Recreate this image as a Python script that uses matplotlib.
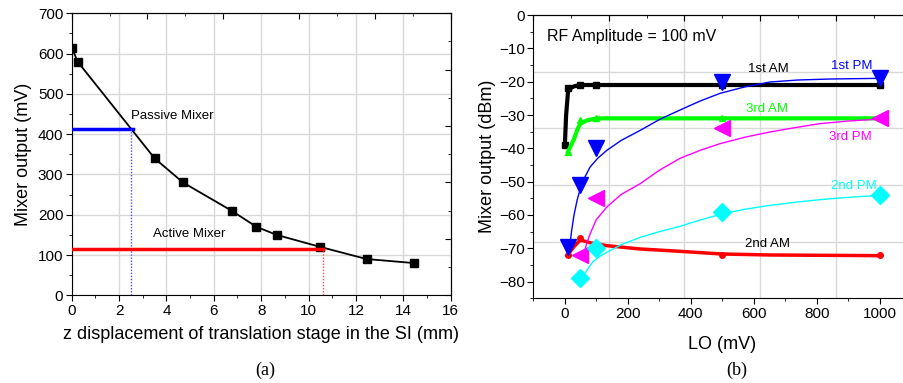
import numpy as np
import matplotlib
matplotlib.use("Agg")
import matplotlib.pyplot as plt

plt.rcParams['font.family'] = ['Liberation Sans', 'DejaVu Sans']

# ---- panel (a) data
z_mm = [0, 0.25, 3.5, 4.7, 6.75, 7.8, 8.65, 10.5, 12.45, 14.45]
out_mv = [615, 580, 340, 280, 210, 170, 150, 120, 90, 80]
passive_z, passive_mv = 2.5, 412
active_z, active_mv = 10.63, 115

# ---- panel (b) data (markers)
am1_x = [1, 10, 50, 100, 500, 1000]
am1_y = [-39, -22, -21, -21, -21, -21]
am3_x = [10, 50, 100, 500, 1000]
am3_y = [-41, -31.5, -31, -31, -31]
am2_x = [10, 50, 500, 1000]
am2_y = [-72, -67, -72, -72]
pm1_x = [10, 50, 100, 500, 1000]
pm1_y = [-69.5, -51, -40, -20, -19]
pm3_x = [50, 100, 500, 1000]
pm3_y = [-72, -55, -34, -31]
pm2_x = [50, 100, 500, 1000]
pm2_y = [-79, -70, -59, -54]

# fitted curves
am1_fit_x = [1, 5, 11, 20, 30, 50, 100, 500, 1000]
am1_fit_y = [-39, -30, -23, -21.9, -21.4, -21, -21, -21, -21]
am3_fit_x = [11, 20, 30, 40, 50, 71, 103, 500, 1000]
am3_fit_y = [-41, -39.2, -37.2, -34.5, -32.6, -31.6, -31, -31, -31]
am2_fit_x = [8, 30, 50, 80, 134, 240, 366, 498, 651, 1000]
am2_fit_y = [-72.2, -69.5, -67.5, -68.3, -69.2, -70.2, -70.9, -71.7, -72.0, -72.2]
pm1_fit_x = [14, 22, 30, 40, 50, 65, 81, 105, 134, 180, 240, 300, 366, 430, 493, 570, 651, 740, 841, 1000]
pm1_fit_y = [-71.7, -65, -60, -55.5, -52.1, -48.5, -45.6, -43, -40.6, -37.6, -34.6, -31.4, -28.5, -25.8, -23.5, -21.6, -20.1, -19.5, -19.2, -19.0]
pm3_fit_x = [60, 65, 70, 81, 100, 134, 180, 240, 300, 366, 430, 493, 570, 651, 730, 809, 900, 1000]
pm3_fit_y = [-72.7, -70.5, -68.5, -65.7, -61.5, -57.6, -53.8, -50.6, -46.6, -43, -40.6, -38.6, -36.7, -35.1, -33.8, -32.6, -31.8, -31.2]
pm2_fit_x = [55, 65, 77, 90, 110, 134, 180, 240, 300, 366, 430, 498, 570, 651, 730, 809, 900, 1000]
pm2_fit_y = [-79, -77.5, -75.7, -74, -72.5, -71.2, -68.9, -66.7, -65, -63.4, -61.5, -59.7, -58.3, -57.1, -56.2, -55.4, -54.7, -54.1]

fig = plt.figure(figsize=(9.04, 3.83), dpi=100)

grid_c = '#d8d8d8'

# ================= (a)
ax = fig.add_axes([0.0793, 0.2290, 0.4192, 0.7363])
ax.set_xlim(0, 16)
ax.set_ylim(0, 700)
ax.set_xticks(np.arange(0, 17, 2))
ax.set_xticks(np.arange(1, 16, 2), minor=True)
ax.set_yticks(np.arange(0, 701, 100))
ax.set_yticks(np.arange(50, 700, 100), minor=True)
ax.grid(True, color=grid_c, lw=1)
ax.set_axisbelow(True)
ax.tick_params(direction='out', labelsize=11, length=4, pad=2)
ax.tick_params(which='minor', direction='out', length=2)

ax.plot(z_mm, out_mv, color='black', lw=1.3, marker='s', ms=6, zorder=3)
ax.plot([0, passive_z + 0.08], [passive_mv, passive_mv], color='#0000ff', lw=2.5, zorder=4)
ax.plot([passive_z, passive_z], [0, passive_mv], color='#4d4dff', lw=1, dashes=(1, 1.2), zorder=4)
ax.plot([0, active_z], [active_mv, active_mv], color='#ff0000', lw=2.5, zorder=4)
ax.plot([active_z, active_z], [0, active_mv], color='#ff4d4d', lw=1, dashes=(1, 1.2), zorder=4)
ax.text(2.5, 445, 'Passive Mixer', fontsize=9.5, va='center', ha='left')
ax.text(3.45, 152, 'Active Mixer', fontsize=9.5, va='center', ha='left')
ax.set_xlabel('z displacement of translation stage in the SI (mm)', fontsize=13, labelpad=6)
ax.set_ylabel('Mixer output (mV)', fontsize=13, labelpad=4)

for side, lim in (('top', 16), ('right', 700)):
    if side == 'top':
        sec = ax.secondary_xaxis('top')
        sec.set_xticks(np.linspace(0, lim, 6))
        sec.set_xticks(np.linspace(0, lim, 11), minor=True)
        sec.tick_params(labeltop=False)
    else:
        sec = ax.secondary_yaxis('right')
        sec.set_yticks(np.linspace(0, lim, 6))
        sec.set_yticks(np.linspace(0, lim, 11), minor=True)
        sec.tick_params(labelright=False)
    sec.tick_params(direction='in', length=4)
    sec.tick_params(which='minor', direction='in', length=2)

fig.text(0.293, 0.02, '(a)', fontsize=13, family=['Liberation Serif', 'DejaVu Serif'], ha='center')

# ================= (b)
bx = fig.add_axes([0.5896, 0.2211, 0.4188, 0.7397])
bx.set_xlim(-100, 1100)
bx.set_ylim(-85, 0)
bx.set_xticks(np.arange(0, 1001, 200))
bx.set_xticks(np.arange(-100, 1100, 100), minor=True)
bx.set_yticks(np.arange(-80, 1, 10))
bx.set_yticks(np.arange(-85, 0, 5), minor=True)
bx.tick_params(direction='out', labelsize=11, length=4, pad=2)
bx.tick_params(which='minor', direction='out', length=2)
for gx in np.linspace(-100, 1100, 6)[1:-1]:
    bx.axvline(gx, color=grid_c, lw=1, zorder=0)
for gy in np.linspace(-85, 0, 6)[1:-1]:
    bx.axhline(gy, color=grid_c, lw=1, zorder=0)

sec = bx.secondary_xaxis('top')
sec.set_xticks(np.linspace(-100, 1100, 6))
sec.set_xticks(np.linspace(-100, 1100, 11), minor=True)
sec.tick_params(labeltop=False, direction='in', length=4)
sec.tick_params(which='minor', direction='in', length=2)

# AM (thick)
bx.plot(am1_fit_x, am1_fit_y, color='black', lw=3, zorder=3)
bx.plot(am1_x, am1_y, ls='none', color='black', marker='s', ms=4, zorder=3)
bx.plot(am3_fit_x, am3_fit_y, color='#00ff00', lw=3, zorder=3)
bx.plot(am3_x, am3_y, ls='none', color='#00ff00', marker='^', ms=5, zorder=3)
bx.plot(am2_fit_x, am2_fit_y, color='#ff0000', lw=2.5, zorder=3)
bx.plot(am2_x, am2_y, ls='none', color='#ff0000', marker='o', ms=4, zorder=3)

# PM (thin fits + big markers)
bx.plot(pm1_fit_x, pm1_fit_y, color='#0000ff', lw=1, zorder=4)
bx.plot(pm1_x, pm1_y, ls='none', color='#0000ff', marker='v', ms=11, zorder=5)
bx.plot(pm3_fit_x, pm3_fit_y, color='#ff00ff', lw=1, zorder=4)
bx.plot(pm3_x, pm3_y, ls='none', color='#ff00ff', marker='<', ms=11, zorder=5)
bx.plot(pm2_fit_x, pm2_fit_y, color='#00ffff', lw=1, zorder=4)
bx.plot(pm2_x, pm2_y, ls='none', color='#00ffff', marker='D', ms=9, zorder=5)

bx.text(-55, -6.5, 'RF Amplitude = 100 mV', fontsize=11.5, va='center', ha='left')
bx.text(645, -16.2, '1st AM', fontsize=9.5, va='center', ha='center', color='black')
bx.text(910, -15.2, '1st PM', fontsize=9.5, va='center', ha='center', color='#0000ff')
bx.text(642, -28.1, '3rd AM', fontsize=9.5, va='center', ha='center', color='#00ff00')
bx.text(907, -36.6, '3rd PM', fontsize=9.5, va='center', ha='center', color='#ff00ff')
bx.text(918, -51.4, '2nd PM', fontsize=9.5, va='center', ha='center', color='#00ffff')
bx.text(642, -68.7, '2nd AM', fontsize=9.5, va='center', ha='center', color='black')

bx.set_xlabel('LO (mV)', fontsize=13, labelpad=11)
bx.set_ylabel('Mixer output (dBm)', fontsize=13, labelpad=2)

fig.text(0.815, 0.02, '(b)', fontsize=13, family=['Liberation Serif', 'DejaVu Serif'], ha='center')

fig.savefig('out.png', dpi=100)
